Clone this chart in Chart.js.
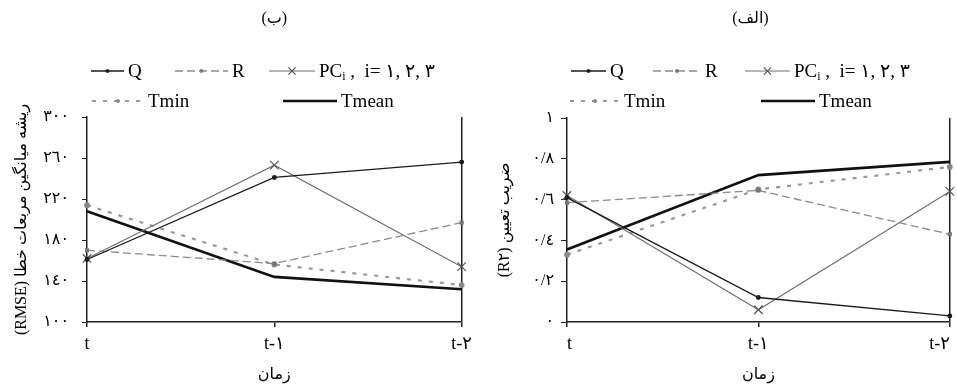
<!DOCTYPE html>
<html>
<head>
<meta charset="utf-8">
<script src="https://cdn.jsdelivr.net/npm/chart.js@4/dist/chart.umd.min.js"></script>
<style>
  body { margin: 0; background: #fff; }
  .wrap { display: flex; width: 957px; height: 385px; }
  .panel { position: relative; height: 385px; }
</style>
</head>
<body>
<div class="wrap">
  <div class="panel" style="width:478px"><canvas id="rmseChart"></canvas></div>
  <div class="panel" style="width:479px"><canvas id="r2Chart"></canvas></div>
</div>
<script>
// categories (time lags)
const categories = ['t', 't-١', 't-٢'];

// panel (ب): RMSE
const rmseQ = [161, 241, 256];
const rmseR = [170, 157, 197];
const rmsePC = [162, 253, 154];
const rmseTmin = [214, 156, 136];
const rmseTmean = [208, 144, 132];
const rmseTicks = ['١٠٠', '١٤٠', '١٨٠', '٢٢٠', '٢٦٠', '٣٠٠'];

// panel (الف): R2
const r2Q = [0.61, 0.12, 0.03];
const r2R = [0.585, 0.645, 0.43];
const r2PC = [0.62, 0.06, 0.64];
const r2Tmin = [0.33, 0.65, 0.76];
const r2Tmean = [0.355, 0.72, 0.785];
const r2Ticks = ['٠', '٠/٢', '٠/٤', '٠/٦', '٠/٨', '١'];

const seriesNames = ['Q', 'R', 'PC', 'Tmin', 'Tmean'];

const serif = "'Liberation Serif', 'DejaVu Sans', serif";

function makeDatasets(q, r, pc, tmin, tmean) {
  return [
    { label: seriesNames[0], data: q, borderColor: '#1a1a1a', borderWidth: 1.3,
      pointStyle: 'circle', pointRadius: 1.8, pointBackgroundColor: '#1a1a1a', pointBorderColor: '#1a1a1a' },
    { label: seriesNames[1], data: r, borderColor: '#8a8a8a', borderWidth: 1.3, borderDash: [8, 4],
      pointStyle: 'rect', pointRadius: 2, pointBackgroundColor: '#777', pointBorderColor: '#777' },
    { label: seriesNames[2], data: pc, borderColor: '#6e6e6e', borderWidth: 1.1,
      pointStyle: 'crossRot', pointRadius: 6, pointBorderWidth: 1.2, pointBackgroundColor: '#555', pointBorderColor: '#555' },
    { label: seriesNames[3], data: tmin, borderColor: '#9a9a9a', borderWidth: 2.2, borderDash: [4, 7],
      pointStyle: 'circle', pointRadius: 1.8, pointBackgroundColor: '#888', pointBorderColor: '#888' },
    { label: seriesNames[4], data: tmean, borderColor: '#111', borderWidth: 2.6, pointRadius: 0 }
  ].map(d => Object.assign({ tension: 0, fill: false, clip: false, pointHoverRadius: 0 }, d));
}

// title + two-row legend drawn above the plot area
const panelLegend = {
  id: 'panelLegend',
  afterDraw(chart, args, opts) {
    const { ctx, chartArea } = chart;
    ctx.save();
    ctx.fillStyle = '#000';
    ctx.textAlign = 'center';
    ctx.textBaseline = 'middle';
    ctx.font = '16px ' + serif;
    ctx.fillText(opts.title, (chartArea.left + chartArea.right) / 2 + opts.titleShift, 19);

    for (const it of opts.items) {
      const ds = chart.data.datasets[it.index];
      const x0 = chartArea.left + it.x;
      const x1 = x0 + it.len;
      const y = it.y;
      ctx.strokeStyle = ds.borderColor;
      ctx.lineWidth = ds.borderWidth;
      ctx.setLineDash(ds.borderDash || []);
      ctx.beginPath();
      ctx.moveTo(x0, y);
      ctx.lineTo(x1, y);
      ctx.stroke();
      ctx.setLineDash([]);
      if (ds.pointRadius > 0) {
        ctx.fillStyle = ds.pointBackgroundColor;
        ctx.strokeStyle = ds.pointBorderColor;
        ctx.lineWidth = ds.pointBorderWidth || 1;
        Chart.helpers.drawPoint(ctx, {
          pointStyle: ds.pointStyle, radius: ds.pointRadius * 0.85, rotation: 0, borderWidth: 1
        }, (x0 + x1) / 2, y);
      }
      ctx.fillStyle = '#000';
      ctx.textAlign = 'left';
      ctx.textBaseline = 'middle';
      ctx.font = '19px ' + serif;
      let tx = x1 + 4;
      ctx.fillText(ds.label, tx, y + 1);
      if (it.sub) {
        tx += ctx.measureText(ds.label).width;
        ctx.font = '12px ' + serif;
        ctx.fillText(it.sub, tx, y + 6);
        tx += ctx.measureText(it.sub).width;
        ctx.font = '19px ' + serif;
        ctx.fillText(it.rest, tx, y + 1);
      }
    }
    ctx.restore();
  }
};

function makeChart(canvasId, datasets, cfg) {
  return new Chart(document.getElementById(canvasId), {
    type: 'line',
    data: { labels: categories, datasets },
    plugins: [panelLegend],
    options: {
      responsive: true,
      maintainAspectRatio: false,
      animation: false,
      events: [],
      layout: { padding: { top: cfg.top, left: 5, right: cfg.right, bottom: 0 } },
      plugins: {
        legend: { display: false },
        tooltip: { enabled: false },
        panelLegend: { title: cfg.title, titleShift: cfg.titleShift, items: cfg.items }
      },
      scales: {
        x: {
          type: 'category',
          offset: false,
          afterFit(scale) { scale.height = 63; },
          border: { display: true, color: '#222', width: 1.5 },
          grid: {
            drawOnChartArea: true,
            color: c => (c.index === categories.length - 1 ? '#222' : 'rgba(0,0,0,0)'),
            lineWidth: 1.5,
            tickLength: 5,
            tickColor: '#222'
          },
          ticks: { color: '#000', font: { family: serif, size: 18 }, padding: 6, align: cfg.xAlign, maxRotation: 0 },
          title: { display: true, text: 'زمان', color: '#000', font: { family: serif, size: 16 }, padding: { top: 0, bottom: 1 } }
        },
        y: {
          min: cfg.min,
          max: cfg.max,
          afterFit(scale) { scale.width = cfg.yWidth; },
          border: { display: true, color: '#222', width: 1.5 },
          grid: { drawOnChartArea: false, tickLength: cfg.tickLen, tickColor: '#222' },
          ticks: {
            stepSize: cfg.step,
            color: '#000',
            padding: cfg.tickPad,
            font: { family: serif, size: 16 },
            callback: (v, i) => cfg.tickLabels[i]
          },
          title: { display: true, text: cfg.yTitle, color: '#000', font: { family: serif, size: 16 }, padding: { top: cfg.titlePad, bottom: 0 } }
        }
      }
    }
  });
}

makeChart('rmseChart', makeDatasets(rmseQ, rmseR, rmsePC, rmseTmin, rmseTmean), {
  title: '(ب)', titleShift: 0, top: 117, right: 14, yWidth: 82, tickLen: 5, tickPad: 13, titlePad: 7,
  min: 100, max: 300, step: 40, tickLabels: rmseTicks, xAlign: 'center',
  yTitle: '(RMSE) ریشه میانگین مربعات خطا',
  items: [
    { index: 0, x: 4, y: 71, len: 33 },
    { index: 1, x: 88, y: 71, len: 53 },
    { index: 2, x: 182, y: 71, len: 46, sub: 'i', rest: ' ,  i= ١\u200E, ٢\u200E, ٣' },
    { index: 3, x: 5, y: 101, len: 52 },
    { index: 4, x: 196, y: 101, len: 54 }
  ]
});

makeChart('r2Chart', makeDatasets(r2Q, r2R, r2PC, r2Tmin, r2Tmean), {
  title: '(الف)', titleShift: -8, top: 118, right: 5, yWidth: 84, tickLen: 6, tickPad: 7, titlePad: 12,
  min: 0, max: 1, step: 0.2, tickLabels: r2Ticks, xAlign: 'inner',
  yTitle: '(R٢\u200E) ضریب تعیین',
  items: [
    { index: 0, x: 4, y: 71, len: 35 },
    { index: 1, x: 86, y: 71, len: 48 },
    { index: 2, x: 178, y: 71, len: 45, sub: 'i', rest: ' ,  i= ١\u200E, ٢\u200E, ٣' },
    { index: 3, x: 3, y: 101, len: 50 },
    { index: 4, x: 194, y: 101, len: 54 }
  ]
});
</script>
</body>
</html>
